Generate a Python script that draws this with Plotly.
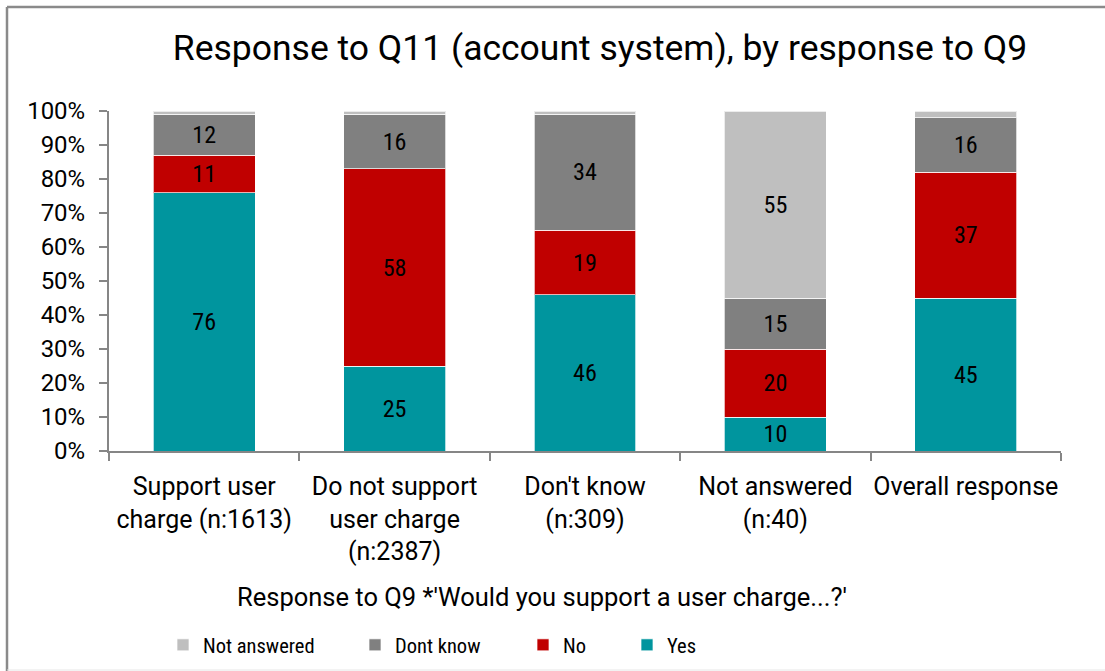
import plotly.graph_objects as go

# Categories (response to Q9) and Q11 responses, % of each group
categories = [
    "Support user<br>charge (n:1613)",
    "Do not support<br>user charge<br>(n:2387)",
    "Don't know<br>(n:309)",
    "Not answered<br>(n:40)",
    "Overall response",
]
yes = [76, 25, 46, 10, 45]
no = [11, 58, 19, 20, 37]
dont_know = [12, 16, 34, 15, 16]
not_answered = [1, 1, 1, 55, 2]

series_names = ["Yes", "No", "Dont know", "Not answered"]
series_values = [yes, no, dont_know, not_answered]
series_colors = ["#00959E", "#C00000", "#808080", "#BFBFBF"]

FONT = "Roboto, sans-serif"
FONT_NARROW = "Roboto Condensed, Roboto, sans-serif"

# plot area in pixels
L, R, T, B = 109, 1061, 111, 451
W, H = 1105, 671
pw, ph = R - L, B - T


def px_x(p):
    return (p - L) / pw


def px_y(p):
    return (B - p) / ph


fig = go.Figure()

# legend text start positions (px) for each series
legend_text_x = {"Not answered": 203, "Dont know": 395, "No": 563, "Yes": 667}
legend_ids = {"Yes": "legend4", "No": "legend3", "Dont know": "legend2", "Not answered": "legend"}

for name, vals, col in zip(series_names, series_values, series_colors):
    labels = [str(v) if v >= 5 else "" for v in vals]
    fig.add_trace(go.Bar(
        x=categories, y=vals, name=name,
        marker=dict(color=col, line=dict(color="rgba(255,255,255,0.7)", width=1)),
        text=labels, textposition="inside", insidetextanchor="middle",
        textangle=0,
        textfont=dict(family=FONT_NARROW, size=25, color="#000000"),
        hoverinfo="skip",
        legend=legend_ids[name],
    ))

legend_common = dict(
    orientation="h", yanchor="middle", xanchor="left",
    font=dict(family=FONT_NARROW, size=20.5, color="#000000"),
    bgcolor="rgba(0,0,0,0)", borderwidth=0,
)
layout_legends = {}
for name, lid in legend_ids.items():
    layout_legends[lid] = dict(legend_common, x=px_x(legend_text_x[name] - 40), y=px_y(645))

fig.update_layout(
    width=W, height=H,
    margin=dict(l=L, r=W - R, t=T, b=H - B, autoexpand=False),
    barmode="stack", bargap=0.465,
    paper_bgcolor="white", plot_bgcolor="white",
    font=dict(family=FONT, size=24, color="#000000"),
    title=dict(text="Response to Q11 (account system), by response to Q9",
               x=600 / W, xanchor="center", y=1 - 48 / H, yanchor="middle",
               font=dict(family=FONT, size=35.5, color="#000000")),
    showlegend=True,
    uniformtext=dict(minsize=8, mode="show"),
    **layout_legends,
)

fig.update_xaxes(
    showline=True, linecolor="#868686", linewidth=2,
    ticks="outside", ticklen=8, tickwidth=2, tickcolor="#868686",
    tickson="boundaries", showgrid=False, ticklabelstandoff=12,
    tickangle=0,
    tickfont=dict(family=FONT, size=25, color="#000000"),
)
fig.update_yaxes(
    range=[0, 100], dtick=10, ticksuffix="%",
    showline=True, linecolor="#868686", linewidth=2,
    ticks="outside", ticklen=8, tickwidth=2, tickcolor="#868686",
    showgrid=False, zeroline=False, ticklabelstandoff=9,
    tickfont=dict(family=FONT, size=24, color="#000000"),
)

fig.add_annotation(
    text="Response to Q9 *'Would you support a user charge...?'",
    xref="paper", yref="paper", x=px_x(542), y=px_y(597),
    xanchor="center", yanchor="middle", showarrow=False,
    font=dict(family=FONT, size=25.5, color="#000000"),
)

# chart frame
fig.add_shape(type="line", xref="paper", yref="paper",
              x0=px_x(7), x1=px_x(W + 5), y0=px_y(7), y1=px_y(7),
              line=dict(color="#8A8A8A", width=2.5))
fig.add_shape(type="line", xref="paper", yref="paper",
              x0=px_x(7), x1=px_x(7), y0=px_y(7), y1=px_y(H + 5),
              line=dict(color="#8A8A8A", width=2.5))
fig.add_shape(type="line", xref="paper", yref="paper",
              x0=px_x(7), x1=px_x(W + 5), y0=px_y(670), y1=px_y(670),
              line=dict(color="#E6E6E6", width=1))

fig.write_html("out.html")
